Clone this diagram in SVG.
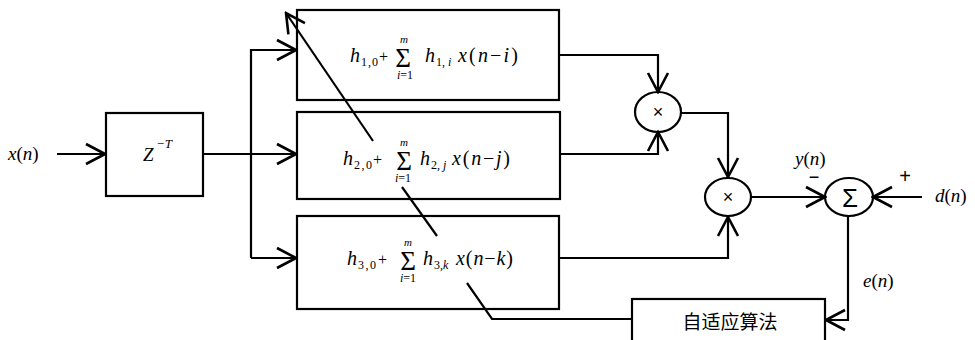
<svg xmlns="http://www.w3.org/2000/svg" width="975" height="340" viewBox="0 0 975 340">
<style>
.box{fill:#fff;stroke:#000;stroke-width:2.2}
.op{fill:#fff;stroke:#000;stroke-width:2.2}
.ln{fill:none;stroke:#000;stroke-width:2.2}
.m{font-family:"Liberation Serif","DejaVu Serif",serif;font-style:italic;fill:#000}
.r{font-family:"Liberation Serif","DejaVu Serif",serif;fill:#000}
.s{font-family:"Liberation Sans","DejaVu Sans",sans-serif;fill:#000}
.cjk{font-family:"Liberation Serif","Noto Sans CJK SC",serif;fill:#000}
</style>
<defs>
<marker id="ah" markerUnits="userSpaceOnUse" viewBox="-22 -12 24 24" markerWidth="24" markerHeight="24" refX="0" refY="0" orient="auto">
<path d="M-19,-10 L0,0 L-19,10" fill="none" stroke="#000" stroke-width="2.6"/>
</marker>
</defs>
<rect width="975" height="340" fill="#fff"/>

<g id="input-label">
<text class="m" x="8" y="160" font-size="19">x<tspan font-style="normal">(</tspan>n<tspan font-style="normal">)</tspan></text>
</g>

<g id="delay">
<rect class="box" x="106" y="113" width="97" height="83"/>
<text class="m" x="143" y="161" font-size="19">Z</text>
<text class="m" x="156" y="148" font-size="13">−T</text>
</g>

<g id="filter1">
<rect class="box" x="297" y="10" width="262" height="90"/>
<text class="m" x="350" y="62" font-size="20">h</text>
<text class="r" x="361" y="66" font-size="12" textLength="17">1,0</text>
<text class="r" x="379" y="62" font-size="16">+</text>
<text class="r" x="403" y="67" font-size="27" text-anchor="middle">Σ</text>
<text class="m" x="404" y="43" font-size="11" text-anchor="middle">m</text>
<text class="m" x="405" y="79" font-size="12" text-anchor="middle">i<tspan font-style="normal">=1</tspan></text>
<text class="m" x="425" y="62" font-size="20">h</text>
<text class="r" x="436" y="66" font-size="12">1, <tspan font-style="italic">i</tspan></text>
<text class="m" x="458" y="62" font-size="20" textLength="60">x<tspan font-style="normal">(</tspan>n<tspan font-style="normal">−</tspan>i<tspan font-style="normal">)</tspan></text>
</g>

<g id="filter2">
<rect class="box" x="297" y="112" width="263" height="87"/>
<text class="m" x="343" y="165" font-size="20">h</text>
<text class="r" x="354" y="169" font-size="12" textLength="18">2,0</text>
<text class="r" x="373" y="165" font-size="16">+</text>
<text class="r" x="404" y="170" font-size="27" text-anchor="middle">Σ</text>
<text class="m" x="404" y="146" font-size="11" text-anchor="middle">m</text>
<text class="m" x="403" y="182" font-size="12" text-anchor="middle">i<tspan font-style="normal">=1</tspan></text>
<text class="m" x="420" y="165" font-size="20">h</text>
<text class="r" x="431" y="169" font-size="12">2, <tspan font-style="italic">j</tspan></text>
<text class="m" x="452" y="165" font-size="20" textLength="58">x<tspan font-style="normal">(</tspan>n<tspan font-style="normal">−</tspan>j<tspan font-style="normal">)</tspan></text>
</g>

<g id="filter3">
<rect class="box" x="297" y="216" width="262" height="93"/>
<text class="m" x="347" y="265" font-size="20">h</text>
<text class="r" x="358" y="269" font-size="12" textLength="18">3,0</text>
<text class="r" x="378" y="265" font-size="16">+</text>
<text class="r" x="408" y="270" font-size="27" text-anchor="middle">Σ</text>
<text class="m" x="408" y="246" font-size="11" text-anchor="middle">m</text>
<text class="m" x="408" y="282" font-size="12" text-anchor="middle">i<tspan font-style="normal">=1</tspan></text>
<text class="m" x="423" y="265" font-size="20">h</text>
<text class="r" x="434" y="269" font-size="12">3,<tspan font-style="italic">k</tspan></text>
<text class="m" x="456" y="265" font-size="20" textLength="57">x<tspan font-style="normal">(</tspan>n<tspan font-style="normal">−</tspan>k<tspan font-style="normal">)</tspan></text>
</g>

<g id="mult1">
<ellipse class="op" cx="658" cy="112" rx="23" ry="20"/>
<text class="s" x="658" y="118" font-size="18" text-anchor="middle">×</text>
</g>

<g id="mult2">
<ellipse class="op" cx="728" cy="197" rx="23" ry="19"/>
<text class="s" x="728" y="203" font-size="18" text-anchor="middle">×</text>
</g>

<g id="sum">
<ellipse class="op" cx="849" cy="197" rx="24" ry="19"/>
<text class="s" x="850" y="207" font-size="26" text-anchor="middle">Σ</text>
<text class="s" x="814" y="183" font-size="18" text-anchor="middle">−</text>
<text class="s" x="905" y="183" font-size="20" text-anchor="middle">+</text>
</g>

<g id="labels">
<text class="m" x="795" y="165" font-size="19">y<tspan font-style="normal">(</tspan>n<tspan font-style="normal">)</tspan></text>
<text class="m" x="935" y="202" font-size="19">d<tspan font-style="normal">(</tspan>n<tspan font-style="normal">)</tspan></text>
<text class="m" x="863" y="287" font-size="19">e<tspan font-style="normal">(</tspan>n<tspan font-style="normal">)</tspan></text>
</g>

<g id="adaptive">
<rect class="box" x="632" y="299" width="193" height="50"/>
<text class="cjk" x="730" y="329" font-size="19" text-anchor="middle">自适应算法</text>
</g>

<g id="connectors">
<path class="ln" d="M57,154 L105,154" stroke-width="3.2" marker-end="url(#ah)"/>
<path class="ln" d="M203,154 L296,154" marker-end="url(#ah)"/>
<path class="ln" d="M251,258 L251,50 L296,50" marker-end="url(#ah)"/>
<path class="ln" d="M251,258 L296,258" marker-end="url(#ah)"/>
<path class="ln" d="M559,55 L658,55 L658,92" marker-end="url(#ah)"/>
<path class="ln" d="M560,154 L658,154 L658,132" marker-end="url(#ah)"/>
<path class="ln" d="M681,113 L728,113 L728,177" marker-end="url(#ah)"/>
<path class="ln" d="M559,258 L728,258 L728,217" marker-end="url(#ah)"/>
<path class="ln" d="M751,197 L825,197" marker-end="url(#ah)"/>
<path class="ln" d="M922,197 L873,197" stroke-width="3" marker-end="url(#ah)"/>
<path class="ln" d="M848,216 L848,320 L826,320" marker-end="url(#ah)"/>
<path class="ln" d="M632,319 L492,319 L467,283"/>
<path class="ln" d="M437,236 L402,187"/>
<path class="ln" d="M373,141 L286,13" marker-end="url(#ah)"/>
</g>
</svg>
